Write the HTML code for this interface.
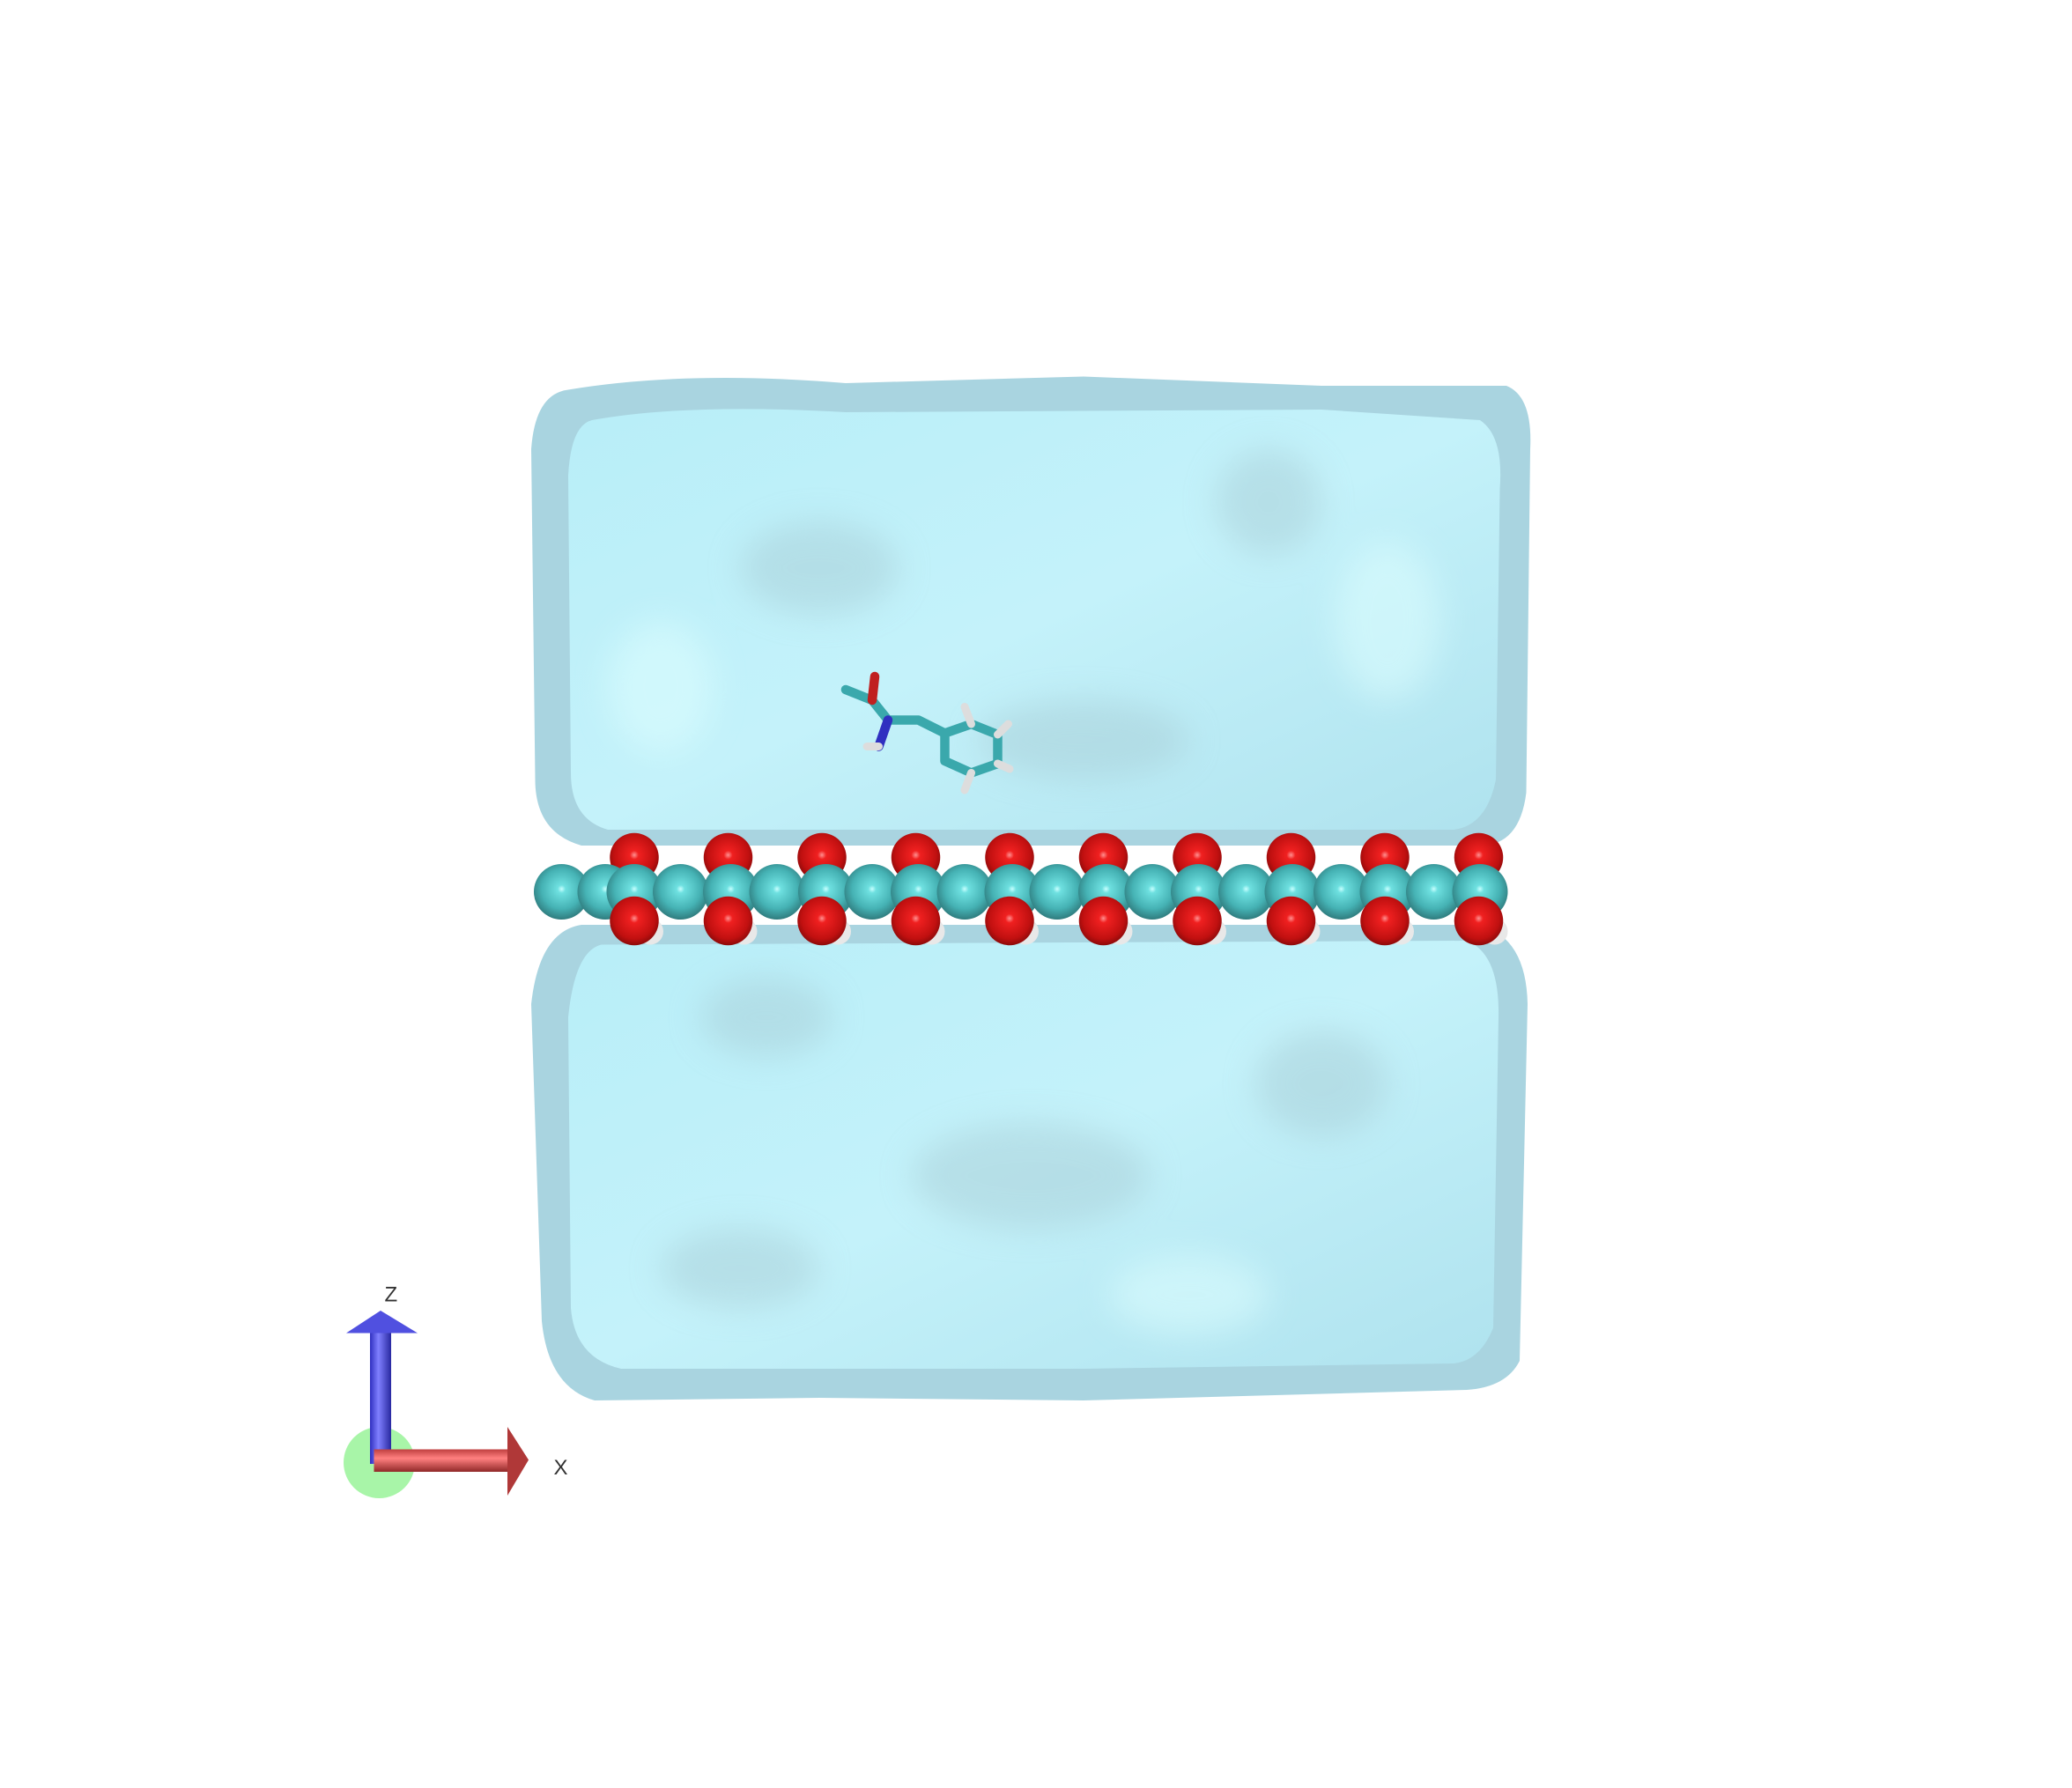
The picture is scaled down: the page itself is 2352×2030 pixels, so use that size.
<!DOCTYPE html>
<html><head><meta charset="utf-8"><style>
html,body{margin:0;padding:0;background:#fff;width:2352px;height:2030px;overflow:hidden}
svg{display:block}
</style></head><body>
<svg id="scene" width="2352" height="2030" viewBox="0 0 1568 1353.33" xmlns="http://www.w3.org/2000/svg">
<defs>
<radialGradient id="gTeal" cx="0.5" cy="0.45" r="0.6"><stop offset="0" stop-color="#c8ffff"/><stop offset="0.12" stop-color="#6ee0e0"/><stop offset="0.6" stop-color="#45b2b4"/><stop offset="1" stop-color="#2a6e70"/></radialGradient>
<radialGradient id="gRed" cx="0.5" cy="0.45" r="0.6"><stop offset="0" stop-color="#ff9090"/><stop offset="0.15" stop-color="#f02020"/><stop offset="0.7" stop-color="#c01010"/><stop offset="1" stop-color="#7a0808"/></radialGradient>
<linearGradient id="gWater" x1="0" y1="0" x2="1" y2="1"><stop offset="0" stop-color="#b8eef8"/><stop offset="0.5" stop-color="#c4f2fa"/><stop offset="1" stop-color="#afe2ee"/></linearGradient>
<linearGradient id="gBlue" x1="0" x2="1"><stop offset="0" stop-color="#3030c0"/><stop offset="0.4" stop-color="#8080ff"/><stop offset="1" stop-color="#2828a0"/></linearGradient>
<linearGradient id="gRedArrow" x1="0" y1="0" x2="0" y2="1"><stop offset="0" stop-color="#c04040"/><stop offset="0.4" stop-color="#ff8080"/><stop offset="1" stop-color="#902828"/></linearGradient>
<filter id="blur"><feGaussianBlur stdDeviation="12"/></filter>
</defs>

<!-- upper water slab -->
<g>
<path d="M430,295 Q520,280 640,290 L820,285 L1000,292 L1140,292 Q1160,300 1158,340 L1155,600 Q1150,640 1120,640 L440,640 Q405,630 405,590 L402,340 Q405,298 430,295Z" fill="#8cc6d6" opacity="0.75"/>
<path d="M448,318 Q520,305 640,312 L1000,310 L1120,318 Q1138,330 1135,370 L1132,590 Q1125,625 1100,628 L460,628 Q432,620 432,585 L430,360 Q432,322 448,318Z" fill="url(#gWater)"/>
<g filter="url(#blur)" opacity="0.5">
<ellipse cx="620" cy="430" rx="60" ry="35" fill="#a8cdd6"/>
<ellipse cx="960" cy="380" rx="40" ry="40" fill="#a8cdd6"/>
<ellipse cx="820" cy="560" rx="80" ry="30" fill="#a8cdd6"/>
<ellipse cx="1050" cy="470" rx="40" ry="60" fill="#e0ffff"/>
<ellipse cx="500" cy="520" rx="40" ry="50" fill="#e0ffff"/>
</g>
</g>

<!-- lower water slab -->
<g>
<path d="M440,700 L1120,700 Q1155,710 1156,760 L1150,1030 Q1140,1050 1110,1052 L820,1060 L620,1058 L450,1060 Q415,1050 410,1000 L402,760 Q408,705 440,700Z" fill="#8cc6d6" opacity="0.75"/>
<path d="M455,715 L1110,712 Q1135,722 1134,770 L1130,1005 Q1120,1030 1100,1032 L820,1036 L470,1036 Q435,1028 432,990 L430,770 Q435,720 455,715Z" fill="url(#gWater)"/>
<g filter="url(#blur)" opacity="0.5">
<ellipse cx="580" cy="770" rx="50" ry="30" fill="#a8cdd6"/>
<ellipse cx="780" cy="890" rx="90" ry="40" fill="#a8cdd6"/>
<ellipse cx="1000" cy="820" rx="50" ry="40" fill="#a8cdd6"/>
<ellipse cx="560" cy="960" rx="60" ry="30" fill="#a8cdd6"/>
<ellipse cx="900" cy="980" rx="60" ry="30" fill="#e0ffff"/>
</g>
</g>

<!-- phenylalanine molecule -->
<g stroke-linecap="round" stroke-linejoin="round">
<polyline points="640,522 660,530 672,545 695,545 715,555 735,548 755,556 755,578 735,585 715,576 715,555" fill="none" stroke="#3aa8ac" stroke-width="7"/>
<line x1="660" y1="530" x2="662" y2="512" stroke="#c02020" stroke-width="7"/>
<line x1="672" y1="545" x2="665" y2="565" stroke="#3030c0" stroke-width="7"/>
<line x1="665" y1="565" x2="656" y2="565" stroke="#ddd" stroke-width="6"/>
<line x1="735" y1="585" x2="730" y2="598" stroke="#ddd" stroke-width="6"/>
<line x1="755" y1="578" x2="764" y2="582" stroke="#ddd" stroke-width="6"/>
<line x1="735" y1="548" x2="730" y2="535" stroke="#ddd" stroke-width="6"/>
<line x1="755" y1="556" x2="763" y2="548" stroke="#ddd" stroke-width="6"/>
</g>

<g id="atoms"></g>

<!-- axes indicator -->
<g>
<circle cx="287" cy="1107" r="27" fill="#a8f5a8"/>
<rect x="280" y="1008" width="16" height="100" fill="url(#gBlue)"/>
<polygon points="262,1009 288,992 316,1009" fill="#5050e0"/>
<rect x="283" y="1097" width="102" height="17" fill="url(#gRedArrow)"/>
<polygon points="384,1080 400,1105 384,1132" fill="#b03838"/>
<text x="291" y="985" font-family="Liberation Sans, sans-serif" font-size="16" fill="#333">Z</text>
<text x="419" y="1116" font-family="Liberation Sans, sans-serif" font-size="16" fill="#333">X</text>
</g>
</svg>
<script>
const tealX = [425,458,480,515,553,588,625,660,695,730,766,800,837,872,907,943,978,1015,1050,1085,1120];
const redX = [480,551,622,693,764,835,906,977,1048,1119];
const tealY = 675, redTopY = 649, redBotY = 697;
const NS = "http://www.w3.org/2000/svg";
const g = document.getElementById('atoms');
function circ(x,y,r,fill,name){
  const c=document.createElementNS(NS,'circle');
  c.setAttribute('cx',x);c.setAttribute('cy',y);c.setAttribute('r',r);c.setAttribute('fill',fill);
  
  
  g.appendChild(c);
}
redX.forEach(x=>circ(x,redTopY,18.5,'url(#gRed)','oxygen-atom-top'));
tealX.forEach(x=>circ(x,tealY,21,'url(#gTeal)','carbon-atom'));
redX.forEach(x=>circ(x+12,redBotY+8,10,'#e8e8e8','hydrogen-atom'));
redX.forEach(x=>circ(x,redBotY,18.5,'url(#gRed)','oxygen-atom-bottom'));
</script>
</body></html>
